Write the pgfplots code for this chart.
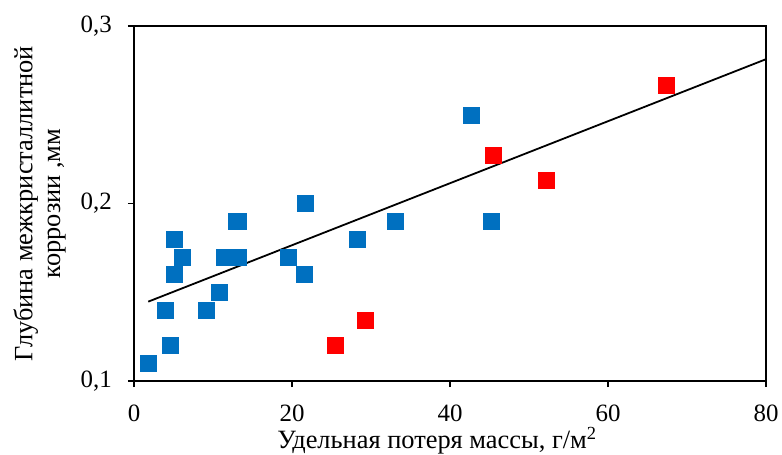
\documentclass[border=0pt]{standalone}
\usepackage{fontspec}
\setmainfont{Liberation Serif}
\usepackage{pgfplots}
\pgfplotsset{compat=1.18}
\definecolor{bl}{HTML}{0070C0}
\definecolor{rd}{HTML}{FF0000}
\begin{document}
\begin{tikzpicture}
\begin{axis}[
  scale only axis,
  width=632bp, height=355bp,
  xmin=0, xmax=80, ymin=0.1, ymax=0.3,
  xtick={0,20,40,60,80},
  ytick={0.1,0.2,0.3},
  tick align=outside,
  major tick length=6bp,
  tick style={black, line width=1.3bp},
  axis line style={line width=1.8bp},
  xtick pos=bottom, ytick pos=left,
  /pgf/number format/assume math mode=true,
  /pgf/number format/use comma,
  yticklabel style={/pgf/number format/fixed,/pgf/number format/precision=1,/pgf/number format/fixed zerofill, anchor=east, inner sep=0pt, xshift=-16bp},
  xticklabel style={anchor=north, inner sep=0pt, yshift=-18bp},
  ticklabel style={font=\fontsize{25}{28}\selectfont},
  xlabel={Удельная потеря массы, г/м\textsuperscript{2}},
  ylabel={Глубина межкристаллитной\\коррозии ,мм},
  xlabel style={font=\fontsize{26.5}{30}\selectfont, at={(axis description cs:0.5,0)}, anchor=base, inner sep=0pt, xshift=-13bp, yshift=-67bp},
  ylabel style={font=\fontsize{26.5}{28}\selectfont, align=center, at={(axis description cs:0,0.5)}, anchor=south, inner sep=0pt, yshift=68bp},
  clip=false,
]
\coordinate (ll) at (rel axis cs:0,0);
\coordinate (ur) at (rel axis cs:1,1);
\addplot[black, line width=1.8bp] coordinates {(1.8,0.1447) (80,0.2813)};
\addplot[only marks, mark=square*, mark size=8bp, mark options={fill=bl, draw=bl, line width=0.3bp}] coordinates {
(1.8,0.11) (4.6,0.12) (3.9,0.14) (9.1,0.14) (10.8,0.15) (5.1,0.16) (6.1,0.17) (5.1,0.18)
(11.4,0.17) (13.2,0.17) (12.9,0.19) (13.2,0.19) (19.5,0.17) (21.6,0.16) (21.7,0.2)
(28.2,0.18) (33.0,0.19) (42.7,0.25) (45.2,0.19)
};
\addplot[only marks, mark=square*, mark size=8bp, mark options={fill=rd, draw=rd, line width=0.3bp}] coordinates {
(25.5,0.1203) (29.2,0.1344) (45.4,0.2273) (52.2,0.2134) (67.4,0.2669)
};
\end{axis}
\useasboundingbox ([xshift=-134bp,yshift=-73bp]ll) rectangle ([xshift=16bp,yshift=26bp]ur);
\end{tikzpicture}
\end{document}
